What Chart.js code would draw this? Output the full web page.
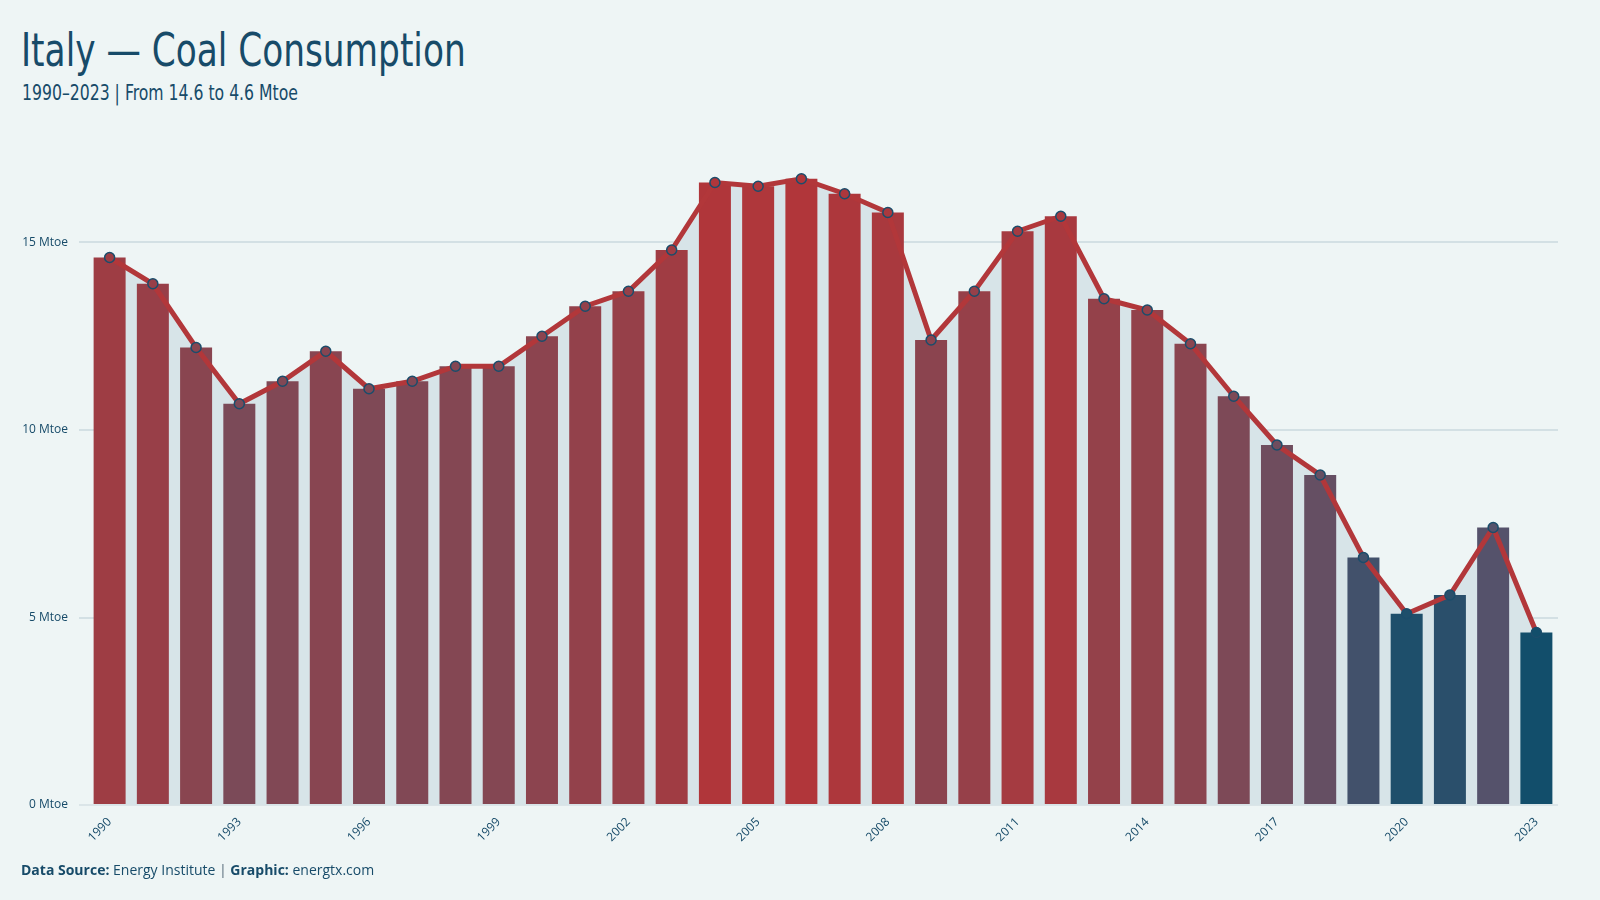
<!DOCTYPE html>
<html lang="en">
<head>
  <meta charset="UTF-8">
  <title>Italy — Coal Consumption</title>
  <script src="https://cdn.jsdelivr.net/npm/chart.js"></script>
  <style>
    html, body { margin: 0; padding: 0; background: #eef5f5; }
    body { width: 1600px; height: 900px; position: relative; overflow: hidden; }
    .title {
      position: absolute; left: 21px; top: 23px; margin: 0;
      font-family: "Liberation Sans Narrow", "DejaVu Sans Condensed", sans-serif;
      font-weight: normal; font-size: 46px; color: #174b69;
      transform: scaleX(0.83); transform-origin: left top; white-space: nowrap;
    }
    .subtitle {
      position: absolute; left: 22px; top: 81px; margin: 0;
      font-family: "Liberation Sans Narrow", "DejaVu Sans Condensed", sans-serif;
      font-size: 21px; color: #174b69;
      transform: scaleX(0.83); transform-origin: left top; white-space: nowrap;
    }
    .footer {
      position: absolute; left: 21px; top: 860px;
      font-family: "Open Sans", sans-serif; font-size: 14px; color: #174b69;
    }
    .footer .sep { color: #8a9aa4; font-weight: bold; }
    .chart-box { position: absolute; left: 0; top: 0; width: 1600px; height: 900px; }
  </style>
</head>
<body>
  <h1 class="title">Italy — Coal Consumption</h1>
  <div class="subtitle">1990–2023 | From 14.6 to 4.6 Mtoe</div>
  <div class="chart-box"><canvas id="coalChart"></canvas></div>
  <div class="footer"><b>Data Source:</b> Energy Institute <span class="sep">|</span> <b>Graphic:</b> energtx.com</div>

  <script>
    const years = [1990, 1991, 1992, 1993, 1994, 1995, 1996, 1997, 1998, 1999,
                   2000, 2001, 2002, 2003, 2004, 2005, 2006, 2007, 2008, 2009,
                   2010, 2011, 2012, 2013, 2014, 2015, 2016, 2017, 2018, 2019,
                   2020, 2021, 2022, 2023];
    const consumption = [14.6, 13.9, 12.2, 10.7, 11.3, 12.1, 11.1, 11.3, 11.7, 11.7,
                         12.5, 13.3, 13.7, 14.8, 16.6, 16.5, 16.7, 16.3, 15.8, 12.4,
                         13.7, 15.3, 15.7, 13.5, 13.2, 12.3, 10.9, 9.6, 8.8, 6.6,
                         5.1, 5.6, 7.4, 4.6];
    const yTicks = [0, 5, 10, 15];

    // blue (low) -> grey-purple -> red (high)
    const stops = [
      [0.00, [18, 78, 107]],
      [0.23, [85, 82, 107]],
      [0.50, [123, 74, 88]],
      [1.00, [177, 54, 58]]
    ];
    function colorFor(v) {
      const lo = Math.min(...consumption), hi = Math.max(...consumption);
      const t = (v - lo) / (hi - lo);
      for (let i = 1; i < stops.length; i++) {
        if (t <= stops[i][0]) {
          const a = stops[i - 1], b = stops[i];
          const k = (t - a[0]) / (b[0] - a[0]);
          const c = a[1].map((x, j) => Math.round(x + (b[1][j] - x) * k));
          return 'rgb(' + c.join(',') + ')';
        }
      }
      return 'rgb(' + stops[stops.length - 1][1].join(',') + ')';
    }
    const barColors = consumption.map(colorFor);

    const tickFont = { family: 'Open Sans', size: 12 };
    const textColor = '#174b69';

    new Chart(document.getElementById('coalChart'), {
      data: {
        labels: years,
        datasets: [
          {
            type: 'line',
            data: consumption,
            borderColor: '#b2373a',
            borderWidth: 5,
            fill: 'origin',
            backgroundColor: '#d7e4e8',
            pointRadius: 5,
            pointBorderWidth: 1.5,
            pointBorderColor: '#1b4d6b',
            pointBackgroundColor: barColors,
            tension: 0,
            order: 1
          },
          {
            type: 'bar',
            data: consumption,
            backgroundColor: barColors,
            borderWidth: 0,
            barPercentage: 0.74,
            categoryPercentage: 1.0,
            order: 2
          }
        ]
      },
      options: {
        responsive: true,
        maintainAspectRatio: false,
        animation: false,
        layout: { padding: { left: 0, right: 42, top: 130, bottom: 45 } },
        plugins: {
          legend: { display: false },
          tooltip: { enabled: false },
          filler: { drawTime: 'beforeDatasetsDraw' }
        },
        scales: {
          x: {
            offset: true,
            grid: { display: false },
            border: { display: false },
            ticks: {
              autoSkip: false,
              maxRotation: 45,
              minRotation: 45,
              color: textColor,
              font: tickFont,
              padding: 2,
              callback: function(value, index) {
                return index % 3 === 0 ? years[index] : '';
              }
            },
            afterFit: function(scale) { scale.height = 50; }
          },
          y: {
            min: 0,
            max: 18,
            border: { display: false },
            afterBuildTicks: function(scale) {
              scale.ticks = yTicks.map(v => ({ value: v }));
            },
            ticks: {
              color: textColor,
              font: tickFont,
              padding: 11,
              callback: function(value) { return value + ' Mtoe'; }
            },
            grid: {
              tickLength: 9,
              lineWidth: 2,
              color: function(ctx) {
                return ctx.tick && ctx.tick.value === 0 ? 'rgba(200,214,220,0.5)' : '#d3e0e4';
              }
            },
            afterFit: function(scale) { scale.width = 88; }
          }
        }
      }
    });
  </script>
</body>
</html>
